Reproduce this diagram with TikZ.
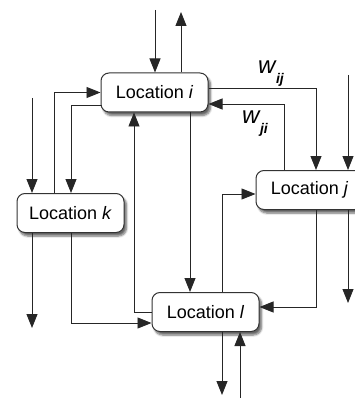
\documentclass[tikz,border=0pt]{standalone}
\usepackage{fontspec}
\setmainfont{Liberation Sans}
\usetikzlibrary{arrows.meta,shadows.blur}
\tikzset{
  loc/.style={draw=black!80, line width=1pt, rounded corners=8pt, fill=white,
    minimum width=107pt, minimum height=39pt, inner sep=0pt,
    font=\fontsize{18}{20}\selectfont,
    blur shadow={shadow xshift=2.5pt, shadow yshift=-3.5pt, shadow blur steps=6, shadow opacity=60}},
  arr/.style={-{Triangle[length=14pt,width=11pt]}, line width=0.9pt, black!85},
  wlab/.style={font=\fontsize{24}{26}\selectfont\itshape, inner sep=0pt, anchor=base west}
}
\newcommand{\wsub}[1]{w\kern0.5pt\raisebox{-10pt}{\fontsize{14}{15}\selectfont\bfseries #1}}
\begin{document}
\begin{tikzpicture}[x=1pt,y=-1pt]
\useasboundingbox (0,0) rectangle (355,398);
% boxes
\node[loc] (i) at (154.5,92.5) {Location \textit{i}};
\node[loc] (k) at (70.5,213) {Location \textit{k}};
\node[loc] (j) at (309.5,190) {Location \textit{j}};
\node[loc] (l) at (205.5,312) {Location \textit{l}};
% free ends
\coordinate (iin) at (155,10);
\coordinate (iout) at (181,12);
\coordinate (kin) at (32,98);
\coordinate (kout) at (32,328);
\coordinate (jin) at (348,75);
\coordinate (jout) at (348,303);
\coordinate (lout) at (222,395);
\coordinate (lin) at (240,398);
% external
\draw[arr] (iin) -- (iin |- i.north);
\draw[arr] (iout |- i.north) -- (iout);
\draw[arr] (kin) -- (kin |- k.north);
\draw[arr] (kout |- k.south) -- (kout);
\draw[arr] (jin) -- (jin |- j.north);
\draw[arr] (jout |- j.south) -- (jout);
\draw[arr] (lout |- l.south) -- (lout);
\draw[arr] (lin) -- (lin |- l.south);
% k <-> i
\draw[arr] (k.north -| 54,0) |- (i.west);
\draw[arr] (i.west |- 0,105) -| (k.north -| 71,0);
% k -> l
\draw[arr] (k.south -| 71,0) |- (l.west |- 0,323);
% l -> i
\draw[arr] (l.west) -| (i.south -| 134,0);
% i -> l
\draw[arr] (i.south -| 190,0) -- (l.north -| 190,0);
% l -> j
\draw[arr] (l.north -| 222,0) |- (j.west |- 0,194);
% i -> j
\draw[arr] (i.east |- 0,88) -| (j.north -| 316,0);
% j -> i
\draw[arr] (j.north -| 284,0) |- (i.east |- 0,104);
% j -> l
\draw[arr] (j.south -| 316,0) |- (l.east |- 0,307);
% labels
\node[wlab] (wij) at (258,74) {\wsub{ij}};
\node[wlab] (wji) at (242,124) {\wsub{ji}};
\end{tikzpicture}
\end{document}
